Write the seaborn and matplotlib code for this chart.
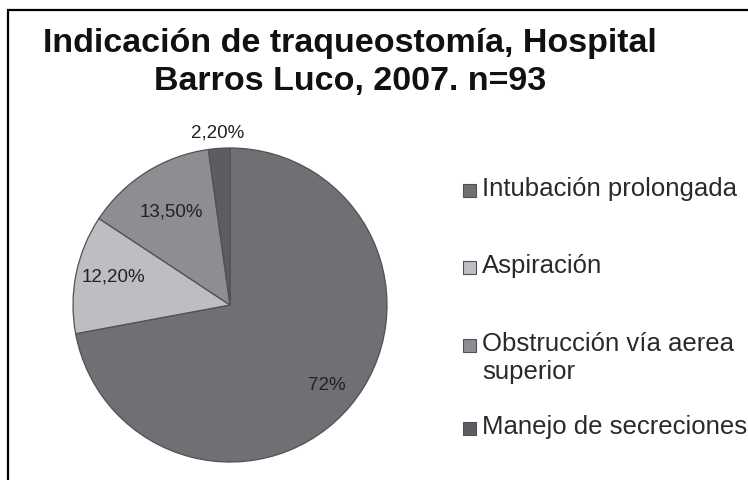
import numpy as np
import matplotlib
matplotlib.use("Agg")
import matplotlib.pyplot as plt
from matplotlib.patches import Rectangle
import seaborn as sns

# ── Data ──────────────────────────────────────────────────────────────────────
categories = ["Intubación prolongada", "Aspiración",
              "Obstrucción vía aerea\nsuperior", "Manejo de secreciones"]
values = [72.0, 12.2, 13.5, 2.2]
value_labels = ["72%", "12,20%", "13,50%", "2,20%"]
title = "Indicación de traqueostomía, Hospital\nBarros Luco, 2007. n=93"

# ── Style ─────────────────────────────────────────────────────────────────────
sns.set_theme(style="white")
plt.rcParams["font.family"] = ["Liberation Sans", "DejaVu Sans"]
COLORS = ["#6f7074", "#bdbec2", "#8d8e92", "#5c5d61"]
EDGE = "#505154"

fig = plt.figure(figsize=(7.48, 4.8), dpi=100, facecolor="white")

# outer frame (cut off at right/bottom like the source)
fig.patches.append(Rectangle((8 / 748, -0.1), 1.2, 1.1 - 10 / 480,
                             transform=fig.transFigure, fill=False,
                             edgecolor="black", linewidth=1.6, clip_on=False))

fig.text(0.468, 1 - 28 / 480, title, ha="center", va="top",
         fontsize=24.5, fontweight="bold", color="#111111", linespacing=1.3)

# pie axes: square box centred at (230, 303) px, radius ~157 px
ax = fig.add_axes([73 / 748, 18 / 480, 314 / 748, 314 / 480])
wedges, _ = ax.pie(values, colors=COLORS, startangle=90, counterclock=False,
                   radius=1.0,
                   wedgeprops=dict(edgecolor=EDGE, linewidth=0.9))
ax.set_xlim(-1, 1)
ax.set_ylim(-1, 1)
ax.set_aspect("equal")
ax.axis("off")

label_dist = [0.80, 0.76, 0.70, 1.10]
label_offset = [0, 4, 0, 0]
for w, lab, d, off in zip(wedges, value_labels, label_dist, label_offset):
    ang = np.deg2rad((w.theta1 + w.theta2) / 2)
    ax.text(d * np.cos(ang), d * np.sin(ang) + off / 157, lab,
            ha="center", va="center", fontsize=13.5, color="#222222",
            clip_on=False)

# legend drawn entry by entry (handle aligned with first text line)
leg_y = [190, 267, 345, 428]
for c, lab, y in zip(COLORS, categories, leg_y):
    fig.patches.append(Rectangle((463 / 748, 1 - (y + 7) / 480), 13 / 748, 13 / 480,
                                 transform=fig.transFigure, facecolor=c,
                                 edgecolor=EDGE, linewidth=0.8))
    fig.text(482 / 748, 1 - (y - 13) / 480, lab, ha="left", va="top",
             fontsize=18.5, color="#2a2a2a", linespacing=1.2)

fig.savefig("out.png", dpi=100, facecolor="white")
